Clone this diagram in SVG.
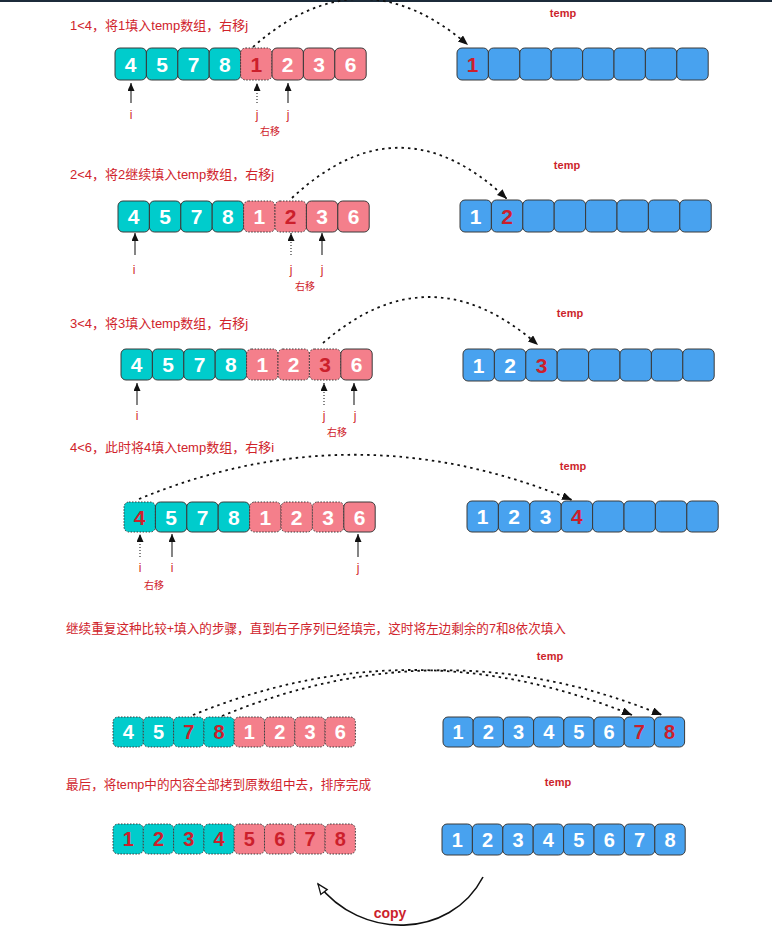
<svg xmlns="http://www.w3.org/2000/svg" width="772" height="935" viewBox="0 0 772 935">
<style>
.t{fill:#00CCCC;stroke:#3a3a3a;stroke-width:1}
.p{fill:#F47F8B;stroke:#3a3a3a;stroke-width:1}
.b{fill:#48A2EF;stroke:#3a3a3a;stroke-width:1}
.d{stroke-dasharray:1.5 1.5}
.n{font-family:"Liberation Sans",Arial,sans-serif;font-weight:bold;font-size:21px;fill:#fff;text-anchor:middle}
.s{font-size:20px}
.r{fill:#CC1F2C}
.lbl{font-family:"Liberation Sans","Noto Sans CJK SC",sans-serif;font-size:13px;fill:#D0232B}
.lb2{font-size:12.6px}
.tmp{font-family:"Liberation Sans",Arial,sans-serif;font-size:11px;font-weight:bold;fill:#CC1F2C;text-anchor:middle}
.pl{font-family:"Liberation Sans",Arial,sans-serif;font-size:12px;fill:#D0232B;text-anchor:middle}
.sm{font-family:"Liberation Sans","Noto Sans CJK SC",sans-serif;font-size:10px;fill:#D0232B;text-anchor:middle}
.cv{fill:none;stroke:#111;stroke-width:1.8;stroke-dasharray:2.5 4;marker-end:url(#ah)}
.pt{stroke:#333;stroke-width:1.2;marker-end:url(#ph)}
.pd{stroke:#333;stroke-width:1.2;stroke-dasharray:1 2;marker-end:url(#ph)}
.cp{font-family:"Liberation Sans",Arial,sans-serif;font-size:14px;font-weight:bold;fill:#CC1F2C;text-anchor:middle}
</style>
<defs>
<marker id="ah" markerUnits="userSpaceOnUse" markerWidth="11" markerHeight="9" refX="10" refY="4" orient="auto"><path d="M0,0 L10,4 L0,8 z" fill="#111" stroke="none"/></marker>
<marker id="ph" markerUnits="userSpaceOnUse" markerWidth="9" markerHeight="8" refX="8" refY="3.5" orient="auto"><path d="M0,0 L8,3.5 L0,7 z" fill="#111" stroke="none"/></marker>
<marker id="oh" markerUnits="userSpaceOnUse" markerWidth="13" markerHeight="11" refX="11" refY="5" orient="auto"><path d="M1,1 L11,5 L1,9 z" fill="#fff" stroke="#111" stroke-width="1.3"/></marker>
</defs>
<rect x="0" y="0" width="772" height="2" fill="#1c2b3a"/>

<!-- Row 1 -->
<text class="lbl" x="70" y="30">1&lt;4，将1填入temp数组，右移j</text>
<text class="tmp" x="563" y="17">temp</text>
<g id="r1-a">
<g id="r1a0"><rect class="t" x="115" y="48" width="31.4" height="32" rx="5"/><text class="n" x="130.7" y="71.5">4</text></g>
<g id="r1a1"><rect class="t" x="146.4" y="48" width="31.4" height="32" rx="5"/><text class="n" x="162.1" y="71.5">5</text></g>
<g id="r1a2"><rect class="t" x="177.8" y="48" width="31.4" height="32" rx="5"/><text class="n" x="193.5" y="71.5">7</text></g>
<g id="r1a3"><rect class="t" x="209.2" y="48" width="31.4" height="32" rx="5"/><text class="n" x="224.9" y="71.5">8</text></g>
<g id="r1a4"><rect class="p d" x="240.6" y="48" width="31.4" height="32" rx="5"/><text class="n r" x="256.3" y="71.5">1</text></g>
<g id="r1a5"><rect class="p" x="272" y="48" width="31.4" height="32" rx="5"/><text class="n" x="287.7" y="71.5">2</text></g>
<g id="r1a6"><rect class="p" x="303.4" y="48" width="31.4" height="32" rx="5"/><text class="n" x="319.1" y="71.5">3</text></g>
<g id="r1a7"><rect class="p" x="334.8" y="48" width="31.4" height="32" rx="5"/><text class="n" x="350.5" y="71.5">6</text></g>
</g>
<g id="r1-t">
<g id="r1t0"><rect class="b" x="457" y="48" width="31.4" height="32" rx="5"/><text class="n r" x="472.7" y="71.5">1</text></g>
<g id="r1t1"><rect class="b" x="488.4" y="48" width="31.4" height="32" rx="5"/></g>
<g id="r1t2"><rect class="b" x="519.8" y="48" width="31.4" height="32" rx="5"/></g>
<g id="r1t3"><rect class="b" x="551.2" y="48" width="31.4" height="32" rx="5"/></g>
<g id="r1t4"><rect class="b" x="582.6" y="48" width="31.4" height="32" rx="5"/></g>
<g id="r1t5"><rect class="b" x="614" y="48" width="31.4" height="32" rx="5"/></g>
<g id="r1t6"><rect class="b" x="645.4" y="48" width="31.4" height="32" rx="5"/></g>
<g id="r1t7"><rect class="b" x="676.8" y="48" width="31.4" height="32" rx="5"/></g>
</g>
<text class="pl" x="131" y="119">i</text>
<text class="pl" x="257" y="119">j</text>
<text class="pl" x="288" y="119">j</text>
<text class="sm" x="270" y="135">右移</text>

<!-- Row 2 -->
<text class="lbl" x="70" y="179">2&lt;4，将2继续填入temp数组，右移j</text>
<text class="tmp" x="567" y="169">temp</text>
<g id="r2-a">
<g id="r2a0"><rect class="t" x="118" y="201" width="31.4" height="31" rx="5"/><text class="n" x="133.7" y="224">4</text></g>
<g id="r2a1"><rect class="t" x="149.4" y="201" width="31.4" height="31" rx="5"/><text class="n" x="165.1" y="224">5</text></g>
<g id="r2a2"><rect class="t" x="180.8" y="201" width="31.4" height="31" rx="5"/><text class="n" x="196.5" y="224">7</text></g>
<g id="r2a3"><rect class="t" x="212.2" y="201" width="31.4" height="31" rx="5"/><text class="n" x="227.9" y="224">8</text></g>
<g id="r2a4"><rect class="p d" x="243.6" y="201" width="31.4" height="31" rx="5"/><text class="n" x="259.3" y="224">1</text></g>
<g id="r2a5"><rect class="p d" x="275" y="201" width="31.4" height="31" rx="5"/><text class="n r" x="290.7" y="224">2</text></g>
<g id="r2a6"><rect class="p" x="306.4" y="201" width="31.4" height="31" rx="5"/><text class="n" x="322.1" y="224">3</text></g>
<g id="r2a7"><rect class="p" x="337.8" y="201" width="31.4" height="31" rx="5"/><text class="n" x="353.5" y="224">6</text></g>
</g>
<g id="r2-t">
<g id="r2t0"><rect class="b" x="460" y="200" width="31.4" height="32" rx="5"/><text class="n" x="475.7" y="223.5">1</text></g>
<g id="r2t1"><rect class="b" x="491.4" y="200" width="31.4" height="32" rx="5"/><text class="n r" x="507.1" y="223.5">2</text></g>
<g id="r2t2"><rect class="b" x="522.8" y="200" width="31.4" height="32" rx="5"/></g>
<g id="r2t3"><rect class="b" x="554.2" y="200" width="31.4" height="32" rx="5"/></g>
<g id="r2t4"><rect class="b" x="585.6" y="200" width="31.4" height="32" rx="5"/></g>
<g id="r2t5"><rect class="b" x="617" y="200" width="31.4" height="32" rx="5"/></g>
<g id="r2t6"><rect class="b" x="648.4" y="200" width="31.4" height="32" rx="5"/></g>
<g id="r2t7"><rect class="b" x="679.8" y="200" width="31.4" height="32" rx="5"/></g>
</g>
<text class="pl" x="134" y="274">i</text>
<text class="pl" x="291" y="274">j</text>
<text class="pl" x="322" y="274">j</text>
<text class="sm" x="305" y="290">右移</text>

<!-- Row 3 -->
<text class="lbl" x="70" y="328">3&lt;4，将3填入temp数组，右移j</text>
<text class="tmp" x="570" y="317">temp</text>
<g id="r3-a">
<g id="r3a0"><rect class="t" x="121" y="349" width="31.4" height="31" rx="5"/><text class="n" x="136.7" y="372">4</text></g>
<g id="r3a1"><rect class="t" x="152.4" y="349" width="31.4" height="31" rx="5"/><text class="n" x="168.1" y="372">5</text></g>
<g id="r3a2"><rect class="t" x="183.8" y="349" width="31.4" height="31" rx="5"/><text class="n" x="199.5" y="372">7</text></g>
<g id="r3a3"><rect class="t" x="215.2" y="349" width="31.4" height="31" rx="5"/><text class="n" x="230.9" y="372">8</text></g>
<g id="r3a4"><rect class="p d" x="246.6" y="349" width="31.4" height="31" rx="5"/><text class="n" x="262.3" y="372">1</text></g>
<g id="r3a5"><rect class="p d" x="278" y="349" width="31.4" height="31" rx="5"/><text class="n" x="293.7" y="372">2</text></g>
<g id="r3a6"><rect class="p d" x="309.4" y="349" width="31.4" height="31" rx="5"/><text class="n r" x="325.1" y="372">3</text></g>
<g id="r3a7"><rect class="p" x="340.8" y="349" width="31.4" height="31" rx="5"/><text class="n" x="356.5" y="372">6</text></g>
</g>
<g id="r3-t">
<g id="r3t0"><rect class="b" x="463" y="349" width="31.4" height="32" rx="5"/><text class="n" x="478.7" y="372.5">1</text></g>
<g id="r3t1"><rect class="b" x="494.4" y="349" width="31.4" height="32" rx="5"/><text class="n" x="510.1" y="372.5">2</text></g>
<g id="r3t2"><rect class="b" x="525.8" y="349" width="31.4" height="32" rx="5"/><text class="n r" x="541.5" y="372.5">3</text></g>
<g id="r3t3"><rect class="b" x="557.2" y="349" width="31.4" height="32" rx="5"/></g>
<g id="r3t4"><rect class="b" x="588.6" y="349" width="31.4" height="32" rx="5"/></g>
<g id="r3t5"><rect class="b" x="620" y="349" width="31.4" height="32" rx="5"/></g>
<g id="r3t6"><rect class="b" x="651.4" y="349" width="31.4" height="32" rx="5"/></g>
<g id="r3t7"><rect class="b" x="682.8" y="349" width="31.4" height="32" rx="5"/></g>
</g>
<text class="pl" x="137" y="420">i</text>
<text class="pl" x="324" y="420">j</text>
<text class="pl" x="355" y="420">j</text>
<text class="sm" x="337" y="436">右移</text>

<!-- Row 4 -->
<text class="lbl" x="70" y="452">4&lt;6，此时将4填入temp数组，右移i</text>
<text class="tmp" x="573" y="470">temp</text>
<g id="r4-a">
<g id="r4a0"><rect class="t d" x="124" y="502" width="31.4" height="30" rx="5"/><text class="n r" x="139.7" y="524.5">4</text></g>
<g id="r4a1"><rect class="t" x="155.4" y="502" width="31.4" height="30" rx="5"/><text class="n" x="171.1" y="524.5">5</text></g>
<g id="r4a2"><rect class="t" x="186.8" y="502" width="31.4" height="30" rx="5"/><text class="n" x="202.5" y="524.5">7</text></g>
<g id="r4a3"><rect class="t" x="218.2" y="502" width="31.4" height="30" rx="5"/><text class="n" x="233.9" y="524.5">8</text></g>
<g id="r4a4"><rect class="p d" x="249.6" y="502" width="31.4" height="30" rx="5"/><text class="n" x="265.3" y="524.5">1</text></g>
<g id="r4a5"><rect class="p d" x="281" y="502" width="31.4" height="30" rx="5"/><text class="n" x="296.7" y="524.5">2</text></g>
<g id="r4a6"><rect class="p d" x="312.4" y="502" width="31.4" height="30" rx="5"/><text class="n" x="328.1" y="524.5">3</text></g>
<g id="r4a7"><rect class="p" x="343.8" y="502" width="31.4" height="30" rx="5"/><text class="n" x="359.5" y="524.5">6</text></g>
</g>
<g id="r4-t">
<g id="r4t0"><rect class="b" x="467" y="501" width="31.4" height="31" rx="5"/><text class="n" x="482.7" y="524">1</text></g>
<g id="r4t1"><rect class="b" x="498.4" y="501" width="31.4" height="31" rx="5"/><text class="n" x="514.1" y="524">2</text></g>
<g id="r4t2"><rect class="b" x="529.8" y="501" width="31.4" height="31" rx="5"/><text class="n" x="545.5" y="524">3</text></g>
<g id="r4t3"><rect class="b" x="561.2" y="501" width="31.4" height="31" rx="5"/><text class="n r" x="576.9" y="524">4</text></g>
<g id="r4t4"><rect class="b" x="592.6" y="501" width="31.4" height="31" rx="5"/></g>
<g id="r4t5"><rect class="b" x="624" y="501" width="31.4" height="31" rx="5"/></g>
<g id="r4t6"><rect class="b" x="655.4" y="501" width="31.4" height="31" rx="5"/></g>
<g id="r4t7"><rect class="b" x="686.8" y="501" width="31.4" height="31" rx="5"/></g>
</g>
<text class="pl" x="140" y="572">i</text>
<text class="pl" x="172" y="572">i</text>
<text class="pl" x="358" y="572">j</text>
<text class="sm" x="154" y="589">右移</text>

<!-- Row 5 -->
<text class="lbl lb2" x="66" y="633">继续重复这种比较+填入的步骤，直到右子序列已经填完，这时将左边剩余的7和8依次填入</text>
<text class="tmp" x="550" y="660">temp</text>
<g id="r5-a">
<g id="r5a0"><rect class="t d" x="113" y="717" width="30.3" height="30" rx="5"/><text class="n s" x="128.2" y="739">4</text></g>
<g id="r5a1"><rect class="t d" x="143.3" y="717" width="30.3" height="30" rx="5"/><text class="n s" x="158.5" y="739">5</text></g>
<g id="r5a2"><rect class="t d" x="173.6" y="717" width="30.3" height="30" rx="5"/><text class="n s r" x="188.8" y="739">7</text></g>
<g id="r5a3"><rect class="t d" x="203.9" y="717" width="30.3" height="30" rx="5"/><text class="n s r" x="219.1" y="739">8</text></g>
<g id="r5a4"><rect class="p d" x="234.2" y="717" width="30.3" height="30" rx="5"/><text class="n s" x="249.4" y="739">1</text></g>
<g id="r5a5"><rect class="p d" x="264.5" y="717" width="30.3" height="30" rx="5"/><text class="n s" x="279.7" y="739">2</text></g>
<g id="r5a6"><rect class="p d" x="294.8" y="717" width="30.3" height="30" rx="5"/><text class="n s" x="310" y="739">3</text></g>
<g id="r5a7"><rect class="p d" x="325.1" y="717" width="30.3" height="30" rx="5"/><text class="n s" x="340.3" y="739">6</text></g>
</g>
<g id="r5-t">
<g id="r5t0"><rect class="b" x="443" y="717" width="30.2" height="30" rx="5"/><text class="n s" x="458.1" y="739">1</text></g>
<g id="r5t1"><rect class="b" x="473.2" y="717" width="30.2" height="30" rx="5"/><text class="n s" x="488.3" y="739">2</text></g>
<g id="r5t2"><rect class="b" x="503.4" y="717" width="30.2" height="30" rx="5"/><text class="n s" x="518.5" y="739">3</text></g>
<g id="r5t3"><rect class="b" x="533.6" y="717" width="30.2" height="30" rx="5"/><text class="n s" x="548.7" y="739">4</text></g>
<g id="r5t4"><rect class="b" x="563.8" y="717" width="30.2" height="30" rx="5"/><text class="n s" x="578.9" y="739">5</text></g>
<g id="r5t5"><rect class="b" x="594" y="717" width="30.2" height="30" rx="5"/><text class="n s" x="609.1" y="739">6</text></g>
<g id="r5t6"><rect class="b" x="624.2" y="717" width="30.2" height="30" rx="5"/><text class="n s r" x="639.3" y="739">7</text></g>
<g id="r5t7"><rect class="b" x="654.4" y="717" width="30.2" height="30" rx="5"/><text class="n s r" x="669.5" y="739">8</text></g>
</g>

<!-- Row 6 -->
<text class="lbl lb2" x="66" y="789">最后，将temp中的内容全部拷到原数组中去，排序完成</text>
<text class="tmp" x="558" y="786">temp</text>
<g id="r6-a">
<g id="r6a0"><rect class="t d" x="113" y="824" width="30.3" height="30" rx="5"/><text class="n s r" x="128.2" y="846">1</text></g>
<g id="r6a1"><rect class="t d" x="143.3" y="824" width="30.3" height="30" rx="5"/><text class="n s r" x="158.5" y="846">2</text></g>
<g id="r6a2"><rect class="t d" x="173.6" y="824" width="30.3" height="30" rx="5"/><text class="n s r" x="188.8" y="846">3</text></g>
<g id="r6a3"><rect class="t d" x="203.9" y="824" width="30.3" height="30" rx="5"/><text class="n s r" x="219.1" y="846">4</text></g>
<g id="r6a4"><rect class="p d" x="234.2" y="824" width="30.3" height="30" rx="5"/><text class="n s r" x="249.4" y="846">5</text></g>
<g id="r6a5"><rect class="p d" x="264.5" y="824" width="30.3" height="30" rx="5"/><text class="n s r" x="279.7" y="846">6</text></g>
<g id="r6a6"><rect class="p d" x="294.8" y="824" width="30.3" height="30" rx="5"/><text class="n s r" x="310" y="846">7</text></g>
<g id="r6a7"><rect class="p d" x="325.1" y="824" width="30.3" height="30" rx="5"/><text class="n s r" x="340.3" y="846">8</text></g>
</g>
<g id="r6-t">
<g id="r6t0"><rect class="b" x="442" y="824" width="30.4" height="31" rx="5"/><text class="n s" x="457.2" y="846.5">1</text></g>
<g id="r6t1"><rect class="b" x="472.4" y="824" width="30.4" height="31" rx="5"/><text class="n s" x="487.6" y="846.5">2</text></g>
<g id="r6t2"><rect class="b" x="502.8" y="824" width="30.4" height="31" rx="5"/><text class="n s" x="518" y="846.5">3</text></g>
<g id="r6t3"><rect class="b" x="533.2" y="824" width="30.4" height="31" rx="5"/><text class="n s" x="548.4" y="846.5">4</text></g>
<g id="r6t4"><rect class="b" x="563.6" y="824" width="30.4" height="31" rx="5"/><text class="n s" x="578.8" y="846.5">5</text></g>
<g id="r6t5"><rect class="b" x="594" y="824" width="30.4" height="31" rx="5"/><text class="n s" x="609.2" y="846.5">6</text></g>
<g id="r6t6"><rect class="b" x="624.4" y="824" width="30.4" height="31" rx="5"/><text class="n s" x="639.6" y="846.5">7</text></g>
<g id="r6t7"><rect class="b" x="654.8" y="824" width="30.4" height="31" rx="5"/><text class="n s" x="670" y="846.5">8</text></g>
</g>
<text class="cp" x="390" y="918">copy</text>

<g id="connectors">
<path class="cv" d="M253,47 Q360,-48 468,45"/>
<path class="cv" d="M292,198 Q400,97 507,199"/>
<path class="cv" d="M323,343 Q430,250 538,345"/>
<path class="cv" d="M139,499 Q355,410 572,500"/>
<path class="cv" d="M193,715 Q412,625 632,715"/>
<path class="cv" d="M222,716 Q442,625 662,715"/>
<line class="pt" x1="131" y1="103" x2="131" y2="83"/>
<line class="pd" x1="257" y1="103" x2="257" y2="83"/>
<line class="pt" x1="288" y1="103" x2="288" y2="83"/>
<line class="pt" x1="135" y1="255" x2="135" y2="233"/>
<line class="pd" x1="291" y1="255" x2="291" y2="233"/>
<line class="pt" x1="322" y1="255" x2="322" y2="233"/>
<line class="pt" x1="137" y1="405" x2="137" y2="383"/>
<line class="pd" x1="324" y1="405" x2="324" y2="383"/>
<line class="pt" x1="354" y1="405" x2="354" y2="383"/>
<line class="pd" x1="140" y1="557" x2="140" y2="534"/>
<line class="pt" x1="172" y1="557" x2="172" y2="534"/>
<line class="pt" x1="358" y1="557" x2="358" y2="534"/>
<path d="M483,877 C450,940 360,940 318,884" fill="none" stroke="#111" stroke-width="1.6" marker-end="url(#oh)"/>
</g>
</svg>
